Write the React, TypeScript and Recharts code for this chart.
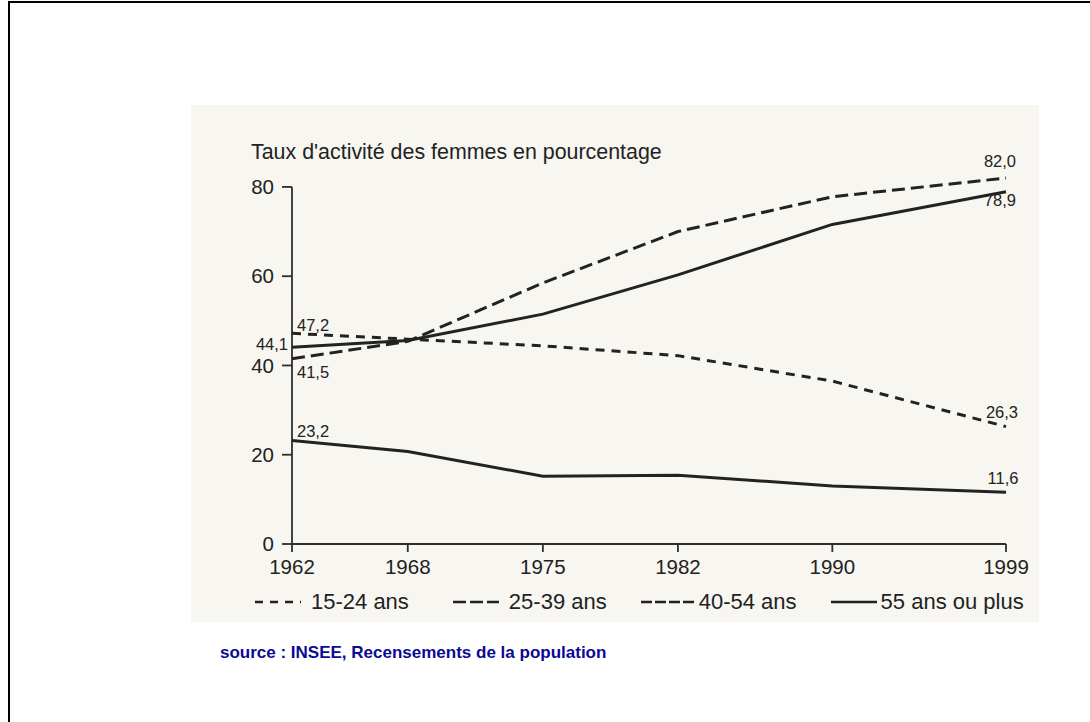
import React from 'react';
import { LineChart, Line, XAxis, YAxis, ReferenceLine, Legend, LabelList } from 'recharts';

const years = [1962, 1968, 1975, 1982, 1990, 1999];
const ages15to24 = [47.2, 45.9, 44.4, 42.2, 36.5, 26.3];
const ages25to39 = [41.5, 45.4, 58.5, 70.0, 77.8, 82.0];
const ages40to54 = [44.1, 45.6, 51.5, 60.3, 71.6, 78.9];
const ages55plus = [23.2, 20.7, 15.2, 15.4, 13.0, 11.6];
const yTicks = [0, 20, 40, 60, 80];
const seriesNames = ['15-24 ans', '25-39 ans', '40-54 ans', '55 ans ou plus'];
const titleText = "Taux d'activité des femmes en pourcentage";
const sourceText = 'source : INSEE, Recensements de la population';

const data = years.map((year, i) => ({
  year,
  s1: ages15to24[i],
  s2: ages25to39[i],
  s3: ages40to54[i],
  s4: ages55plus[i],
}));

const FONT = '"Liberation Sans", Arial, Helvetica, sans-serif';
const INK = '#222222';
const AXIS = '#2e2e2e';

type Spec = { dx: number; dy: number; anchor: 'start' | 'middle' | 'end' };

const fmt = (v: number) => v.toFixed(1).replace('.', ',');

const makeLabel = (first: Spec, last: Spec) => (props: any) => {
  const { x, y, index, value } = props;
  let s: Spec | null = null;
  if (index === 0) s = first;
  else if (index === data.length - 1) s = last;
  if (!s || x == null || y == null) return null;
  return (
    <text
      x={Number(x) + s.dx}
      y={Number(y) + s.dy}
      textAnchor={s.anchor}
      dominantBaseline="central"
      fontSize={16.5}
      fontFamily={FONT}
      fill={INK}
    >
      {fmt(Number(value))}
    </text>
  );
};

const series = [
  { key: 's1', dash: '9 7', legendDash: '8 7', label: makeLabel({ dx: 5, dy: -8, anchor: 'start' }, { dx: -4, dy: -15, anchor: 'middle' }) },
  { key: 's2', dash: '13 6', legendDash: '13 4', label: makeLabel({ dx: 5, dy: 13, anchor: 'start' }, { dx: -6, dy: -17, anchor: 'middle' }) },
  { key: 's3', dash: undefined, legendDash: '11 3', label: makeLabel({ dx: -4, dy: -3, anchor: 'end' }, { dx: -6, dy: 8, anchor: 'middle' }) },
  { key: 's4', dash: undefined, legendDash: undefined, label: makeLabel({ dx: 5, dy: -9, anchor: 'start' }, { dx: -3, dy: -14, anchor: 'middle' }) },
];

const renderLegend = (props: any) => {
  const payload = props.payload || [];
  return (
    <div style={{ display: 'flex', alignItems: 'center', paddingLeft: 255, height: 28, fontFamily: FONT, fontSize: 22, color: INK, lineHeight: '28px' }}>
      {payload.map((entry: any, i: number) => (
        <div key={i} style={{ display: 'flex', alignItems: 'center', marginRight: i === 0 ? 44 : 34 }}>
          <svg width={i === 2 ? 54 : 46} height={10} style={{ display: 'block' }}>
            <line x1={0} y1={5} x2={i === 2 ? 54 : 46} y2={5} stroke={INK} strokeWidth={2.6} strokeDasharray={series[i].legendDash} />
          </svg>
          <span style={{ marginLeft: i >= 2 ? 4 : 10 }}>{entry.value}</span>
        </div>
      ))}
    </div>
  );
};

export default function App() {
  return (
    <div style={{ position: 'absolute', left: 0, top: 0, width: 1090, height: 722, overflow: 'hidden', background: '#ffffff' }}>
      <div style={{ position: 'absolute', left: 8, top: 1, width: 1082, height: 721, boxSizing: 'border-box', borderLeft: '2px solid #000', borderTop: '2px solid #000' }} />
      <div style={{ position: 'absolute', left: 191, top: 105, width: 848, height: 517, background: '#f7f6f0' }} />
      <div style={{ position: 'absolute', left: 0, top: 0 }}>
        <LineChart width={1090} height={722} data={data} margin={{ top: 178, right: 84, left: 232, bottom: 138 }}>
          <XAxis
            dataKey="year"
            type="number"
            domain={[1962, 1999]}
            ticks={years}
            interval={0}
            height={40}
            tickSize={8}
            tickMargin={7}
            axisLine={{ stroke: AXIS, strokeWidth: 1.8 }}
            tickLine={{ stroke: AXIS, strokeWidth: 1.8 }}
            tick={{ fontSize: 20.5, fill: INK, fontFamily: FONT }}
          />
          <YAxis
            type="number"
            domain={[0, 82]}
            ticks={yTicks}
            interval={0}
            width={60}
            tickSize={10}
            tickMargin={8}
            axisLine={false}
            tickLine={{ stroke: AXIS, strokeWidth: 1.8 }}
            tick={{ fontSize: 20.5, fill: INK, fontFamily: FONT }}
          />
          <ReferenceLine segment={[{ x: 1962, y: 0 }, { x: 1962, y: 80 }]} stroke={AXIS} strokeWidth={1.8} />
          {series.map((s, i) => (
            <Line
              key={s.key}
              dataKey={s.key}
              name={seriesNames[i]}
              type="linear"
              stroke={INK}
              strokeWidth={3}
              strokeDasharray={s.dash}
              dot={false}
              activeDot={false}
              isAnimationActive={false}
            >
              <LabelList dataKey={s.key} content={s.label} />
            </Line>
          ))}
          <Legend
            layout="horizontal"
            verticalAlign="middle"
            align="center"
            wrapperStyle={{ left: 0, top: 588, width: 1090, height: 28 }}
            content={renderLegend}
          />
        </LineChart>
      </div>
      <div style={{ position: 'absolute', left: 251, top: 140, fontFamily: FONT, fontSize: 21.4, lineHeight: '24px', color: INK, whiteSpace: 'nowrap' }}>
        {titleText}
      </div>
      <div style={{ position: 'absolute', left: 220, top: 643, fontFamily: FONT, fontSize: 17, fontWeight: 'bold', lineHeight: '20px', color: '#0a0a96', whiteSpace: 'nowrap' }}>
        {sourceText}
      </div>
    </div>
  );
}
